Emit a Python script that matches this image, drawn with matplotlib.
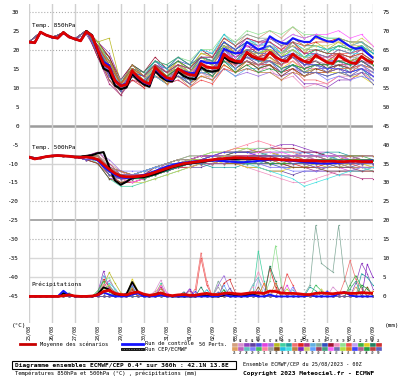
import numpy as np
import matplotlib
matplotlib.use("Agg")
import matplotlib.pyplot as plt
from matplotlib.lines import Line2D
from matplotlib.patches import Rectangle

# ---------------- data ----------------
DATES = ["25/08", "26/08", "27/08", "28/08", "29/08", "30/08", "31/08", "01/09",
         "02/09", "03/09", "04/09", "05/09", "06/09", "07/09", "08/09", "09/09"]

# 6-hourly (0..360h) mean / control, HRES 0..240h
MEAN_T850 = [22.0, 21.8, 24.6, 23.8, 23.3, 23.0, 24.5, 23.3, 22.8, 22.3, 24.7, 23.6,
             19.8, 16.2, 15.2, 11.8, 10.4, 10.8, 14.4, 12.8, 11.6, 11.0, 15.4, 13.8,
             12.6, 12.2, 15.0, 14.0, 13.4, 13.2, 16.3, 15.4, 15.2, 15.2, 18.8, 17.6,
             17.0, 16.8, 19.3, 18.2, 17.6, 17.4, 19.3, 18.0, 17.2, 16.9, 18.8, 17.7,
             16.9, 16.6, 18.5, 17.5, 16.6, 16.3, 18.5, 17.4, 16.6, 16.3, 18.2, 17.1,
             16.5]
CTRL_T850 = [22.0, 21.8, 24.5, 23.8, 23.2, 23.0, 24.4, 23.3, 22.8, 22.4, 24.6, 23.6,
             20.0, 16.8, 15.8, 12.0, 10.6, 11.0, 14.2, 12.6, 11.4, 10.8, 15.0, 13.5,
             12.2, 12.0, 14.8, 14.2, 13.8, 13.8, 17.0, 16.5, 16.4, 16.6, 20.2, 19.5,
             19.0, 19.2, 22.0, 21.0, 20.0, 20.5, 23.5, 22.5, 21.8, 21.5, 23.0, 22.4,
             22.0, 22.0, 23.5, 22.8, 22.2, 22.0, 22.8, 21.8, 20.8, 20.2, 20.5, 19.0,
             17.8]
HRES_T850 = [22.0, 21.8, 24.6, 23.8, 23.3, 23.0, 24.6, 23.3, 22.8, 22.3, 24.9, 23.8,
             19.5, 15.0, 14.2, 10.5, 9.6, 10.0, 13.6, 12.0, 10.8, 10.2, 14.4, 12.8,
             11.8, 11.6, 14.2, 13.0, 12.4, 12.2, 15.4, 14.4, 14.2, 14.5, 18.0, 17.0,
             16.5, 16.6, 19.0, 18.0, 17.5]

MEAN_T500 = [-8.3, -8.8, -8.5, -8.2, -8.0, -7.9, -8.0, -8.1, -8.3, -8.4, -8.3, -8.5,
             -8.9, -10.2, -11.5, -12.6, -13.3, -13.5, -13.5, -13.4, -13.2, -12.8, -12.3, -11.8,
             -11.3, -10.8, -10.4, -10.0, -9.8, -9.6, -9.4, -9.2, -9.0, -8.8, -8.7, -8.6,
             -8.5, -8.5, -8.6, -8.6, -8.7, -8.8, -8.8, -8.9, -9.0, -9.1, -9.1, -9.2,
             -9.3, -9.3, -9.3, -9.4, -9.4, -9.4, -9.5, -9.5, -9.4, -9.4, -9.5, -9.5,
             -9.5]
CTRL_T500 = [-8.3, -8.8, -8.5, -8.2, -8.0, -7.9, -8.0, -8.1, -8.3, -8.4, -8.3, -8.6,
             -9.2, -10.8, -12.0, -13.0, -13.6, -13.8, -13.6, -13.4, -13.0, -12.6, -12.0, -11.4,
             -10.8, -10.4, -10.0, -9.8, -9.6, -9.4, -9.3, -9.2, -9.2, -9.3, -9.4, -9.5,
             -9.6, -9.7, -9.6, -9.5, -9.3, -9.2, -9.0, -9.0, -9.1, -9.2, -9.3, -9.5,
             -9.6, -9.8, -9.9, -10.0, -10.0, -9.9, -9.8, -9.6, -9.5, -9.4, -9.3, -9.3,
             -9.2]
HRES_T500 = [-8.3, -8.8, -8.5, -8.2, -8.0, -7.9, -8.0, -8.1, -8.2, -8.2, -8.0, -7.8,
             -7.3, -7.0, -11.0, -14.5, -15.6, -14.8, -13.8, -13.6, -13.6, -13.2, -12.8, -12.2,
             -11.6, -11.0, -10.6, -10.2, -10.0, -9.8, -9.6, -9.4, -9.2, -9.0, -8.9, -8.8,
             -8.8, -8.7, -8.7, -8.8, -8.8]

MEAN_RR = [0, 0, 0, 0, 0, 0, 0.2, 0.4, 0.1, 0, 0, 0.1,
           0.4, 1.3, 1.6, 0.8, 0.5, 0.4, 0.9, 1.2, 0.6, 0.3, 0.5, 0.9,
           0.4, 0.2, 0.4, 0.5, 0.3, 0.3, 0.6, 0.8, 0.5, 0.5, 0.8, 0.9,
           0.7, 0.6, 0.8, 1.0, 0.9, 0.8, 1.4, 1.3, 0.9, 0.8, 0.8, 0.7,
           0.5, 0.5, 0.8, 0.9, 0.8, 0.7, 0.9, 1.0, 0.8, 0.8, 1.0, 0.9,
           0.8]
CTRL_RR = [0, 0, 0, 0, 0, 0, 1.5, 0.3, 0, 0, 0, 0,
           0.2, 1.0, 0.5, 0, 0, 0, 0.5, 0.8, 0, 0, 0, 0.4,
           0, 0, 0, 0, 0, 0, 0, 0, 0, 0, 0.6, 0,
           0, 0, 0, 0.3, 0, 0, 0.5, 0, 0, 0, 0, 0,
           0, 0.4, 0, 0, 0, 0, 0.6, 1.2, 0.3, 0, 0, 0,
           0]
HRES_RR = [0, 0, 0, 0, 0, 0, 0.8, 0.5, 0, 0, 0, 0,
           0.6, 2.4, 1.8, 0.5, 0.3, 0.6, 3.8, 1.2, 0.2, 0, 0.6, 1.0,
           0.3, 0, 0, 0, 0, 0, 0.4, 0.2, 0, 0, 0.3, 0.6,
           0.2, 0, 0.4, 0.5, 0.2]

# 12-hourly perturbations: common start (0..48h) + each member 60h..360h
T850_HEAD = [22.0, 24.5, 23.2, 24.4, 22.8]
T850_PERTS = [
    [25, 21, 17, 11, 15, 12, 16, 14, 17, 15, 19, 18, 23, 21, 24, 23, 25, 23, 26, 23, 24, 22, 23, 21, 22, 19],
    [25, 19, 13, 10, 14, 11, 14, 12, 13, 11, 14, 12, 16, 14, 15, 14, 16, 14, 17, 15, 17, 16, 18, 17, 19, 17],
    [25, 22, 19, 12, 16, 13, 17, 14, 16, 13, 16, 14, 18, 15, 17, 15, 16, 13, 14, 11, 11, 10, 12, 12, 14, 13],
    [24, 19, 12, 9, 13, 11, 15, 13, 16, 14, 18, 17, 21, 18, 20, 18, 19, 16, 18, 16, 18, 17, 19, 18, 20, 18],
    [25, 20, 16, 10, 14, 13, 16, 15, 17, 16, 18, 17, 20, 17, 19, 17, 17, 15, 16, 14, 15, 15, 16, 15, 17, 15],
    [25, 21, 14, 9, 14, 12, 14, 12, 14, 13, 17, 17, 22, 20, 23, 22, 22, 20, 21, 19, 19, 18, 18, 17, 17, 15],
    [25, 18, 12, 9, 13, 11, 13, 11, 12, 10, 13, 12, 15, 13, 14, 13, 14, 13, 15, 14, 15, 15, 16, 15, 16, 15],
    [25, 22, 23, 11, 16, 13, 16, 14, 17, 14, 18, 16, 20, 17, 20, 18, 21, 18, 22, 19, 22, 20, 22, 20, 21, 18],
    [25, 20, 14, 9, 13, 12, 15, 13, 15, 14, 17, 17, 21, 20, 22, 22, 23, 22, 24, 23, 24, 23, 23, 22, 22, 20],
    [25, 19, 15, 11, 15, 13, 15, 12, 14, 11, 14, 14, 18, 17, 19, 19, 20, 17, 19, 16, 17, 15, 16, 14, 15, 12],
    [25, 21, 16, 10, 15, 14, 17, 15, 16, 14, 16, 15, 18, 16, 17, 16, 16, 14, 15, 12, 12, 11, 13, 12, 14, 12],
    [25, 22, 18, 11, 14, 12, 14, 13, 15, 12, 15, 13, 17, 16, 18, 18, 20, 19, 22, 21, 22, 22, 23, 22, 22, 20],
    [25, 18, 11, 8, 12, 11, 14, 12, 14, 12, 15, 15, 19, 18, 20, 20, 21, 19, 21, 19, 19, 18, 19, 17, 18, 16],
    [25, 20, 17, 11, 15, 12, 15, 12, 13, 11, 13, 12, 15, 13, 15, 15, 17, 16, 19, 18, 20, 19, 21, 20, 20, 18],
    [25, 21, 15, 10, 14, 13, 16, 14, 17, 15, 19, 19, 23, 22, 24, 23, 23, 21, 22, 20, 20, 19, 19, 18, 18, 16],
    [25, 19, 14, 10, 13, 11, 13, 11, 13, 12, 15, 14, 19, 17, 18, 17, 17, 15, 16, 14, 14, 13, 14, 14, 15, 14],
    [25, 21, 18, 12, 16, 14, 18, 15, 18, 16, 20, 18, 22, 19, 21, 19, 20, 17, 19, 16, 17, 15, 16, 16, 17, 16],
    [25, 20, 13, 9, 14, 11, 14, 13, 16, 14, 17, 15, 19, 16, 17, 15, 15, 12, 13, 10, 11, 11, 13, 13, 15, 14],
    [25, 22, 16, 10, 15, 13, 17, 16, 18, 17, 20, 20, 24, 22, 25, 24, 25, 24, 26, 24, 24, 23, 23, 22, 22, 19],
    [25, 19, 14, 9, 13, 10, 13, 11, 12, 10, 12, 11, 15, 14, 16, 16, 17, 16, 18, 17, 18, 18, 19, 19, 20, 18],
    [25, 20, 15, 10, 14, 12, 15, 13, 16, 14, 17, 16, 20, 19, 21, 20, 21, 19, 20, 18, 19, 17, 18, 17, 18, 15],
    [25, 21, 17, 11, 15, 13, 16, 13, 15, 13, 15, 14, 17, 15, 17, 15, 16, 14, 16, 15, 16, 16, 17, 17, 18, 17],
    [25, 19, 12, 9, 13, 12, 16, 14, 17, 15, 19, 18, 22, 19, 20, 18, 18, 15, 17, 14, 15, 14, 14, 13, 13, 11],
    [25, 20, 16, 11, 16, 14, 17, 15, 17, 15, 18, 17, 22, 20, 22, 21, 23, 21, 23, 21, 21, 20, 21, 20, 21, 19],
    [25, 18, 13, 9, 12, 10, 13, 12, 14, 13, 16, 15, 19, 16, 18, 16, 16, 14, 15, 13, 14, 14, 15, 14, 16, 14],
    [25, 21, 16, 10, 14, 11, 14, 11, 13, 10, 13, 13, 17, 16, 19, 19, 21, 20, 23, 21, 23, 22, 22, 21, 21, 18],
    [25, 20, 14, 10, 13, 12, 14, 12, 15, 13, 17, 17, 21, 20, 23, 22, 23, 21, 22, 19, 19, 17, 17, 15, 16, 13],
    [25, 22, 17, 12, 15, 13, 15, 13, 14, 12, 15, 14, 17, 15, 17, 16, 18, 16, 19, 18, 20, 20, 21, 21, 22, 20],
    [25, 19, 13, 10, 14, 12, 15, 14, 16, 14, 18, 17, 20, 17, 18, 17, 17, 14, 16, 13, 14, 12, 13, 12, 13, 12],
    [25, 21, 15, 9, 14, 13, 16, 13, 15, 14, 18, 17, 22, 20, 22, 20, 21, 18, 20, 18, 20, 19, 21, 20, 21, 18],
    [25, 19, 16, 11, 15, 12, 14, 12, 13, 11, 14, 13, 18, 16, 19, 18, 18, 16, 17, 15, 15, 14, 15, 15, 16, 15],
    [25, 20, 14, 9, 13, 11, 15, 13, 16, 14, 17, 17, 21, 19, 22, 21, 21, 19, 20, 17, 17, 16, 16, 15, 15, 13],
    [25, 22, 18, 11, 15, 13, 16, 14, 15, 13, 15, 14, 18, 15, 17, 15, 16, 13, 15, 13, 15, 14, 16, 15, 17, 15],
    [25, 19, 14, 10, 14, 13, 17, 15, 18, 16, 20, 19, 24, 21, 23, 21, 22, 19, 21, 18, 19, 18, 20, 19, 21, 19],
    [25, 20, 16, 10, 13, 11, 13, 11, 13, 11, 15, 14, 18, 17, 20, 19, 21, 19, 22, 20, 21, 20, 20, 19, 19, 17],
    [25, 21, 17, 11, 16, 13, 16, 13, 14, 12, 14, 13, 16, 14, 15, 14, 14, 12, 14, 13, 14, 14, 15, 15, 16, 15],
    [25, 19, 13, 9, 13, 11, 14, 13, 15, 14, 17, 16, 21, 19, 21, 20, 20, 18, 19, 17, 18, 17, 17, 16, 17, 15],
    [25, 20, 15, 10, 15, 13, 16, 14, 16, 13, 16, 14, 18, 17, 19, 19, 20, 19, 21, 20, 21, 21, 22, 21, 23, 21],
    [25, 21, 14, 10, 14, 12, 14, 12, 14, 12, 14, 13, 17, 15, 18, 17, 19, 17, 20, 18, 18, 17, 17, 16, 16, 14],
    [25, 18, 12, 8, 13, 11, 15, 13, 15, 14, 17, 16, 20, 18, 20, 18, 19, 16, 18, 15, 16, 16, 17, 17, 18, 16],
    [25, 21, 17, 11, 15, 14, 17, 16, 18, 16, 18, 17, 21, 18, 19, 17, 17, 15, 16, 14, 16, 15, 17, 16, 17, 15],
    [25, 20, 14, 9, 14, 12, 15, 12, 14, 12, 16, 15, 19, 18, 21, 21, 23, 22, 24, 23, 24, 24, 25, 23, 24, 21],
    [25, 19, 15, 10, 13, 11, 14, 12, 15, 13, 16, 15, 19, 16, 18, 16, 17, 14, 16, 14, 14, 13, 14, 13, 15, 13],
    [25, 22, 16, 11, 15, 12, 15, 13, 16, 14, 17, 16, 21, 19, 20, 19, 20, 18, 20, 18, 18, 17, 18, 17, 18, 16],
    [25, 20, 17, 11, 14, 11, 14, 11, 13, 11, 13, 12, 16, 14, 17, 16, 18, 16, 18, 17, 18, 17, 19, 18, 19, 17],
    [25, 19, 14, 10, 14, 13, 16, 14, 16, 15, 18, 18, 22, 20, 22, 20, 21, 18, 19, 16, 16, 15, 15, 14, 15, 13],
    [25, 21, 15, 10, 14, 11, 14, 12, 14, 13, 16, 15, 18, 16, 17, 16, 17, 16, 18, 17, 19, 18, 20, 19, 20, 18],
    [25, 20, 15, 9, 13, 11, 15, 13, 15, 12, 15, 13, 17, 14, 16, 14, 15, 14, 16, 15, 16, 16, 17, 16, 18, 16],
    [25, 21, 16, 11, 15, 13, 16, 14, 16, 15, 18, 18, 23, 21, 23, 22, 22, 20, 22, 19, 20, 19, 19, 18, 19, 17],
    [25, 19, 13, 9, 13, 12, 14, 12, 13, 11, 15, 14, 19, 17, 20, 19, 19, 17, 18, 16, 16, 14, 15, 13, 14, 11],
]

T500_HEAD = [-8.3, -8.5, -8.0, -8.0, -8.3]
T500_PERTS = [
    [-8, -8, -10, -12, -13, -13, -12, -11, -10, -9, -8, -8, -7, -7, -6, -7, -7, -8, -8, -8, -9, -9, -10, -10, -10, -11],
    [-8, -9, -13, -15, -15, -14, -13, -12, -11, -11, -10, -10, -10, -9, -10, -10, -11, -11, -10, -10, -9, -9, -9, -8, -8, -8],
    [-9, -10, -14, -14, -14, -13, -12, -11, -10, -9, -9, -8, -8, -7, -7, -6, -6, -5, -5, -6, -7, -7, -8, -8, -9, -9],
    [-8, -8, -11, -13, -14, -14, -13, -12, -11, -11, -11, -10, -10, -10, -11, -11, -12, -12, -13, -12, -12, -11, -11, -11, -10, -10],
    [-8, -9, -12, -12, -13, -12, -11, -10, -9, -9, -8, -8, -8, -8, -9, -9, -8, -8, -8, -7, -7, -8, -8, -9, -9, -9],
    [-8, -9, -12, -14, -15, -14, -13, -12, -11, -10, -9, -9, -9, -8, -8, -8, -9, -9, -10, -10, -11, -11, -11, -12, -12, -11],
    [-8, -7, -9, -12, -13, -13, -12, -11, -10, -10, -9, -9, -9, -9, -8, -8, -8, -7, -7, -7, -8, -8, -9, -9, -10, -10],
    [-9, -9, -13, -14, -13, -12, -11, -10, -10, -9, -8, -7, -7, -6, -6, -7, -7, -8, -9, -10, -10, -11, -11, -10, -10, -10],
    [-8, -10, -14, -16, -16, -15, -14, -13, -12, -11, -10, -9, -9, -8, -8, -8, -9, -9, -9, -10, -10, -10, -11, -11, -11, -12],
    [-8, -9, -12, -13, -13, -12, -11, -10, -10, -10, -10, -11, -11, -11, -10, -10, -9, -9, -8, -8, -8, -7, -7, -8, -8, -8],
    [-8, -8, -11, -12, -14, -14, -13, -12, -10, -9, -8, -8, -8, -7, -7, -8, -8, -8, -9, -9, -9, -10, -10, -9, -9, -9],
    [-9, -9, -12, -13, -13, -13, -12, -11, -11, -10, -10, -9, -9, -9, -9, -9, -10, -10, -10, -11, -11, -10, -10, -10, -9, -9],
    [-8, -7, -10, -13, -14, -13, -12, -10, -9, -8, -8, -8, -8, -8, -9, -9, -10, -10, -11, -11, -12, -12, -13, -13, -14, -14],
    [-8, -9, -12, -13, -14, -14, -13, -12, -11, -10, -10, -9, -8, -8, -8, -8, -7, -7, -7, -7, -8, -8, -8, -9, -9, -9],
    [-9, -10, -13, -15, -15, -14, -12, -11, -10, -9, -9, -8, -8, -8, -8, -9, -9, -9, -9, -8, -8, -8, -9, -9, -9, -10],
    [-8, -9, -11, -12, -13, -12, -12, -11, -11, -10, -10, -10, -9, -9, -10, -10, -10, -11, -11, -11, -10, -10, -10, -11, -11, -11],
    [-8, -8, -11, -13, -14, -13, -11, -10, -9, -9, -8, -8, -7, -7, -7, -7, -6, -6, -6, -7, -7, -8, -8, -8, -9, -9],
    [-8, -9, -13, -14, -14, -13, -13, -12, -11, -11, -10, -10, -10, -10, -11, -12, -13, -14, -15, -15, -14, -13, -12, -12, -11, -11],
    [-8, -8, -12, -13, -13, -12, -11, -10, -9, -8, -8, -7, -7, -7, -6, -6, -6, -7, -7, -8, -8, -8, -9, -9, -9, -9],
    [-9, -10, -13, -14, -15, -14, -13, -12, -11, -10, -10, -10, -9, -9, -9, -9, -9, -8, -8, -9, -9, -10, -10, -10, -11, -11],
    [-8, -9, -12, -13, -13, -13, -12, -11, -10, -9, -9, -9, -8, -8, -8, -9, -9, -10, -10, -10, -10, -9, -9, -9, -9, -10],
    [-8, -8, -12, -14, -14, -13, -12, -11, -10, -10, -10, -9, -9, -9, -9, -10, -10, -10, -9, -9, -9, -9, -8, -8, -8, -9],
    [-8, -9, -11, -13, -14, -13, -12, -11, -10, -9, -9, -9, -10, -10, -11, -11, -12, -12, -11, -11, -10, -10, -10, -10, -10, -11],
    [-9, -9, -12, -13, -13, -12, -11, -10, -9, -9, -8, -8, -8, -7, -7, -7, -8, -8, -8, -8, -8, -9, -9, -9, -9, -9],
    [-8, -9, -13, -15, -15, -14, -13, -12, -11, -11, -10, -10, -9, -9, -9, -9, -10, -10, -10, -10, -10, -10, -10, -10, -10, -10],
    [-8, -8, -11, -12, -13, -12, -11, -10, -9, -9, -9, -9, -9, -8, -8, -8, -8, -9, -9, -9, -10, -10, -10, -11, -11, -11],
    [-9, -9, -12, -14, -14, -13, -12, -11, -11, -10, -10, -9, -9, -9, -8, -8, -8, -8, -8, -8, -9, -9, -9, -9, -8, -8],
    [-8, -9, -12, -13, -14, -14, -13, -11, -10, -10, -9, -9, -8, -8, -8, -9, -9, -9, -9, -9, -9, -10, -10, -10, -10, -10],
    [-8, -8, -11, -12, -12, -12, -11, -10, -10, -9, -9, -9, -9, -10, -10, -10, -11, -11, -12, -12, -12, -12, -12, -12, -11, -11],
    [-8, -9, -13, -14, -14, -13, -12, -11, -10, -10, -9, -8, -8, -8, -8, -8, -8, -8, -9, -9, -10, -10, -10, -9, -9, -9],
    [-8, -9, -12, -14, -15, -14, -13, -12, -11, -10, -9, -8, -7, -6, -5, -4, -5, -6, -7, -8, -8, -9, -9, -9, -9, -10],
    [-8, -8, -11, -13, -13, -12, -11, -10, -9, -9, -9, -9, -9, -9, -9, -9, -9, -9, -9, -9, -8, -8, -8, -8, -9, -9],
    [-9, -10, -14, -15, -14, -13, -12, -11, -10, -10, -10, -10, -10, -10, -10, -10, -10, -10, -11, -11, -11, -12, -12, -12, -12, -12],
    [-8, -8, -12, -13, -14, -13, -12, -11, -10, -9, -9, -9, -8, -8, -8, -8, -9, -9, -9, -9, -9, -9, -9, -10, -10, -10],
    [-8, -9, -12, -14, -14, -14, -13, -12, -11, -10, -9, -9, -9, -9, -10, -11, -12, -13, -14, -16, -15, -14, -13, -12, -12, -11],
    [-8, -9, -11, -12, -13, -13, -12, -11, -10, -10, -10, -9, -9, -9, -9, -8, -8, -8, -8, -9, -9, -9, -9, -8, -8, -8],
    [-9, -9, -12, -13, -13, -13, -12, -12, -11, -10, -10, -9, -8, -8, -8, -8, -8, -8, -9, -9, -9, -9, -9, -10, -10, -10],
    [-8, -8, -12, -14, -15, -15, -14, -13, -12, -11, -10, -10, -9, -9, -9, -9, -9, -9, -9, -9, -9, -9, -10, -10, -10, -10],
    [-8, -9, -11, -13, -13, -12, -11, -11, -10, -10, -9, -9, -9, -8, -8, -8, -8, -8, -8, -8, -8, -8, -9, -9, -9, -9],
    [-8, -8, -12, -13, -14, -13, -12, -11, -10, -9, -9, -8, -8, -8, -8, -8, -9, -9, -9, -9, -10, -10, -11, -11, -12, -12],
    [-8, -9, -12, -14, -14, -13, -12, -11, -10, -10, -9, -9, -9, -9, -10, -10, -10, -9, -9, -9, -9, -9, -9, -9, -9, -9],
    [-9, -9, -12, -14, -15, -14, -12, -11, -10, -9, -8, -8, -8, -8, -8, -7, -7, -7, -8, -8, -8, -8, -8, -9, -9, -9],
    [-8, -9, -13, -14, -14, -13, -12, -11, -10, -10, -10, -10, -10, -9, -9, -10, -10, -10, -10, -10, -11, -11, -10, -10, -10, -10],
    [-8, -8, -11, -13, -14, -13, -12, -11, -10, -9, -9, -9, -8, -8, -9, -9, -9, -9, -9, -9, -9, -9, -9, -9, -9, -9],
    [-8, -9, -12, -13, -14, -13, -12, -11, -11, -10, -10, -9, -9, -9, -9, -9, -9, -10, -10, -10, -10, -10, -10, -9, -9, -9],
    [-9, -9, -12, -13, -14, -13, -12, -12, -11, -10, -9, -8, -7, -7, -7, -8, -8, -9, -9, -9, -9, -9, -9, -9, -10, -10],
    [-8, -8, -11, -13, -13, -13, -12, -11, -10, -10, -10, -10, -10, -9, -9, -9, -9, -9, -8, -8, -8, -9, -9, -9, -10, -10],
    [-8, -9, -12, -13, -14, -14, -13, -12, -11, -10, -10, -9, -9, -9, -9, -9, -10, -10, -10, -10, -9, -9, -9, -9, -9, -9],
    [-8, -9, -12, -14, -14, -13, -12, -11, -10, -10, -9, -9, -9, -8, -8, -8, -8, -9, -9, -9, -9, -10, -10, -10, -10, -10],
    [-9, -9, -13, -14, -14, -13, -12, -11, -10, -10, -10, -9, -9, -9, -9, -9, -9, -9, -10, -10, -10, -10, -10, -10, -10, -10],
]

# precipitation of the perturbations: (member, 6-h step, mm); all other steps 0
RR_EVENTS = [
    (5, 6, 1.2), (16, 6, 0.8), (28, 7, 1.0), (41, 6, 1.5),
    (3, 12, 1.0), (3, 13, 6.7), (3, 14, 2.0), (8, 13, 3.0), (8, 14, 6.3), (8, 15, 3.5), (8, 16, 1.0),
    (12, 13, 4.5), (12, 14, 2.5), (14, 13, 5.5), (14, 14, 3.0), (14, 15, 1.0),
    (19, 13, 3.8), (19, 14, 5.0), (19, 15, 1.5), (22, 12, 1.5), (22, 13, 4.0), (22, 14, 1.2),
    (27, 13, 2.5), (27, 14, 4.2), (27, 15, 2.0), (31, 13, 3.2), (31, 14, 2.0),
    (35, 14, 3.5), (35, 15, 2.0), (40, 12, 0.8), (40, 13, 2.2), (40, 14, 1.5),
    (44, 13, 1.8), (44, 14, 3.0), (47, 14, 2.5), (47, 15, 1.2),
    (1, 18, 2.5), (6, 18, 3.5), (6, 19, 1.0), (10, 18, 2.8), (23, 18, 4.6), (23, 19, 1.5),
    (29, 17, 1.0), (29, 18, 3.0), (33, 18, 2.0), (38, 18, 3.8), (38, 19, 1.2), (45, 18, 2.2), (49, 18, 1.6),
    (2, 22, 1.5), (2, 23, 4.3), (2, 24, 1.0), (9, 23, 3.5), (17, 23, 2.5), (26, 22, 1.0), (26, 23, 3.0),
    (36, 23, 2.0), (42, 23, 2.8), (42, 24, 1.0),
    (4, 27, 1.2), (13, 28, 1.5), (30, 27, 1.0), (37, 28, 2.0), (46, 29, 1.3),
    (11, 29, 2.0), (11, 30, 11.5), (11, 31, 4.0), (20, 30, 10.0), (20, 31, 3.0), (24, 30, 2.5), (34, 31, 1.8),
    (7, 33, 3.0), (7, 34, 5.5), (7, 35, 2.0), (15, 33, 4.0), (15, 34, 1.5), (25, 34, 3.5), (25, 35, 4.5),
    (25, 36, 1.0), (32, 33, 2.5), (39, 34, 3.0), (43, 35, 2.2), (48, 34, 1.8), (50, 33, 1.2),
    (9, 40, 12.0), (9, 41, 4.0), (18, 39, 2.5), (18, 40, 6.5), (18, 41, 3.0), (21, 40, 4.5), (21, 41, 2.0),
    (28, 39, 3.0), (28, 40, 5.0), (33, 40, 2.5), (45, 41, 3.5), (3, 40, 1.5),
    (19, 42, 4.0), (19, 43, 13.4), (19, 44, 3.0), (12, 42, 7.4), (12, 43, 2.5), (24, 42, 8.0), (24, 43, 4.0),
    (36, 43, 3.5), (1, 43, 2.0), (40, 44, 2.5),
    (20, 45, 6.0), (20, 46, 3.0), (6, 45, 3.0), (29, 46, 2.5), (44, 45, 2.0), (14, 46, 1.8),
    (15, 48, 0.5), (15, 49, 3.0), (15, 50, 18.7), (15, 51, 8.7), (15, 52, 7.5), (15, 53, 6.4),
    (15, 54, 18.7), (15, 55, 5.0), (15, 56, 0.8),
    (10, 49, 2.5), (10, 50, 1.5), (30, 50, 3.0), (30, 51, 1.5), (38, 51, 2.0), (46, 52, 1.5), (2, 53, 2.5), (2, 54, 1.0),
    (11, 55, 4.0), (11, 56, 9.5), (11, 57, 4.5), (11, 58, 2.0), (3, 57, 3.5), (3, 58, 8.7), (3, 59, 6.0), (3, 60, 2.0),
    (22, 56, 3.0), (22, 57, 5.5), (22, 58, 2.5), (10, 58, 6.0), (10, 59, 5.0), (10, 60, 3.0),
    (37, 59, 8.5), (37, 60, 5.0), (41, 56, 2.0), (41, 57, 4.0), (48, 58, 3.0), (48, 59, 2.0),
    (26, 57, 2.5), (33, 59, 2.5), (45, 60, 1.5),
]

PERT_COLORS = [
    '#d4a080', '#d890d0', '#9040c0', '#6040a0', '#5050e0', '#e040e0', '#a070e0', '#b8b820', '#40d0a0', '#20a0a0',
    '#f07070', '#e02020', '#b03080', '#60b0e0', '#80a898', '#3050c0', '#a01030', '#f090c0', '#90e090', '#f05050',
    '#c0a0f0', '#40b040', '#e0d020', '#208060', '#d03030', '#e0a060', '#c060c0', '#60c0c0', '#8080ff', '#40c060',
    '#ff80a0', '#a0a0a0', '#805020', '#20c0e0', '#40e0e0', '#c08040', '#8020c0', '#d0d060', '#60a0ff', '#a04060',
    '#40a080', '#ff60ff', '#7070b0', '#b0e040', '#e08020', '#4040ff', '#b06090', '#20a040', '#c04040', '#6060c0',
]

# ---------------- figure ----------------
W, H = 400, 378
fig = plt.figure(figsize=(W / 100, H / 100), dpi=100)


def fx(x):
    return x / W


def fy(y):
    return 1 - y / H


MONO = "DejaVu Sans Mono"
AX_L, AX_R, AX_T, AX_B = 29, 373, 4, 323
ax = fig.add_axes([fx(AX_L), fy(AX_B), (AX_R - AX_L) / W, (AX_B - AX_T) / H])
ax.set_xlim(0, 360)
ax.set_ylim(-52, 32)
for s in ax.spines.values():
    s.set_visible(False)

axr = ax.twinx()
axr.set_ylim(-52 + 45, 32 + 45)
for s in axr.spines.values():
    s.set_visible(False)

h6 = np.arange(0, 361, 6)
h12 = np.arange(0, 361, 12)

# grid
for v, st, col, lw in [(30, ':', '#b0b0b0', 0.8), (20, ':', '#a8a8a8', 0.8), (10, '-', '#d4d4d4', 1.2),
                       (0, '-', '#9c9c9c', 1.8), (-10, '-', '#d4d4d4', 1.0), (-20, ':', '#a8a8a8', 0.8),
                       (-25, '-', '#a8a8a8', 1.4), (-30, ':', '#a8a8a8', 0.8), (-35, '-', '#d8d8d8', 1.0),
                       (-40, '-', '#d8d8d8', 1.0)]:
    ax.axhline(v, color=col, lw=lw, ls=st, zorder=0)
for i in range(len(DATES)):
    hh = 24 * i
    dotted = hh in (216, 288)
    ax.axvline(hh, color='#b4b4b4' if dotted else '#d0d0d0', lw=1.0, ls=':' if dotted else '-', zorder=0)

# temperatures: perturbations
for i in range(50):
    c = PERT_COLORS[i]
    ax.plot(h12, T850_HEAD + T850_PERTS[i], color=c, lw=0.5, marker='s', ms=0.9, mew=0, zorder=2)
    ax.plot(h12, T500_HEAD + T500_PERTS[i], color=c, lw=0.5, marker='s', ms=0.9, mew=0, zorder=2)

# precipitation: perturbations
rr = np.zeros((50, len(h6)))
for m, k, v in RR_EVENTS:
    rr[m - 1, k] = v
for i in range(50):
    axr.plot(h6, rr[i], color=PERT_COLORS[i], lw=0.5, marker='s', ms=0.9, mew=0, zorder=2)

# HRES, control, mean
ax.plot(h6[:len(HRES_T850)], HRES_T850, color='black', lw=1.5, zorder=4)
ax.plot(h6[:len(HRES_T500)], HRES_T500, color='black', lw=1.5, zorder=4)
ax.plot(h6, CTRL_T850, color='#1414ff', lw=1.5, zorder=5)
ax.plot(h6, CTRL_T500, color='#1414ff', lw=1.5, zorder=5)
ax.plot(h6, MEAN_T850, color='#dd0000', lw=2.0, zorder=6)
ax.plot(h6, MEAN_T500, color='#dd0000', lw=2.0, zorder=6)
axr.plot(h6[:len(HRES_RR)], HRES_RR, color='black', lw=1.3, zorder=4)
axr.plot(h6, CTRL_RR, color='#1414ff', lw=1.3, zorder=5)
axr.plot(h6, MEAN_RR, color='#dd0000', lw=2.0, zorder=6)

# in-plot labels
ax.text(3, 26.4, "Temp. 850hPa", fontsize=4.3, family=MONO, va='center', ha='left', zorder=8)
ax.text(3, -5.9, "Temp. 500hPa", fontsize=4.3, family=MONO, va='center', ha='left', zorder=8)
ax.text(3, -41.7, "Précipitations", fontsize=4.3, family=MONO, va='center', ha='left', zorder=8)

# axes ticks
ax.set_yticks(range(-45, 31, 5))
ax.set_yticklabels([str(v) for v in range(-45, 31, 5)], fontsize=4.3, family=MONO)
ax.tick_params(axis='y', length=0, pad=7)
axr.set_yticks(range(0, 76, 5))
axr.set_yticklabels([str(v) for v in range(0, 76, 5)], fontsize=4.3, family=MONO)
axr.tick_params(axis='y', length=0, pad=7)
ax.set_xticks(range(0, 361, 24))
ax.set_xticklabels(DATES, rotation=90, fontsize=3.6, family=MONO)
ax.tick_params(axis='x', length=0, pad=1.2)

fig.text(fx(12), fy(326), "(°C)", fontsize=4.3, family=MONO, va='center', ha='left')
fig.text(fx(385), fy(326), "(mm)", fontsize=4.3, family=MONO, va='center', ha='left')

# legend
fig.add_artist(Line2D([fx(20), fx(35)], [fy(344), fy(344)], color='#c80000', lw=2.0))
fig.text(fx(40), fy(344), "Moyenne des scénarios", fontsize=3.9, family=MONO, va='center')
fig.add_artist(Line2D([fx(122), fx(143)], [fy(343.5), fy(343.5)], color='#1414ff', lw=2.0))
fig.text(fx(145), fy(343.3), "Run de contrôle", fontsize=3.9, family=MONO, va='center')
fig.add_artist(Line2D([fx(122), fx(143)], [fy(349), fy(349)], color='black', lw=2.0))
fig.add_artist(Line2D([fx(122), fx(143)], [fy(349), fy(349)], color='#909090', lw=0.6, ls=(0, (1, 1))))
fig.text(fx(145), fy(349), "Run CEP/ECMWF", fontsize=3.9, family=MONO, va='center')
fig.text(fx(199), fy(345), "50 Perts.", fontsize=3.7, family=MONO, va='center')

sq_w, sq_h = 6, 4.0
for i in range(50):
    col = i % 25
    row = i // 25
    x0 = 232 + col * sq_w
    y0 = 343 + row * sq_h
    fig.add_artist(Rectangle((fx(x0), fy(y0 + sq_h)), sq_w / W, sq_h / H, transform=fig.transFigure,
                             facecolor=PERT_COLORS[i], edgecolor='white', lw=0.2))
    ty = 341.2 if row == 0 else 353.0
    fig.text(fx(x0 + sq_w / 2), fy(ty), "%02d" % (i + 1), fontsize=2.1, family=MONO, ha='center', va='center')

# title block
fig.add_artist(Rectangle((fx(12), fy(369)), (236 - 12) / W, 8 / H, transform=fig.transFigure,
                         facecolor='none', edgecolor='black', lw=0.8))
fig.text(fx(15), fy(365), "Diagramme ensembles ECMWF/CEP 0.4° sur 360h : 42.1N 13.8E",
         fontsize=4.4, family=MONO, weight='bold', va='center')
fig.text(fx(15), fy(373.5), "Températures 850hPa et 500hPa (°C) , précipitations (mm)",
         fontsize=3.95, family=MONO, va='center')
fig.text(fx(243), fy(363.5), "Ensemble ECMWF/CEP du 25/08/2023 - 00Z",
         fontsize=3.7, family=MONO, va='center')
fig.text(fx(243), fy(373.5), "Copyright 2023 Meteociel.fr - ECMWF",
         fontsize=4.5, family=MONO, weight='bold', va='center')

fig.savefig("out.png", dpi=100, facecolor='white')
